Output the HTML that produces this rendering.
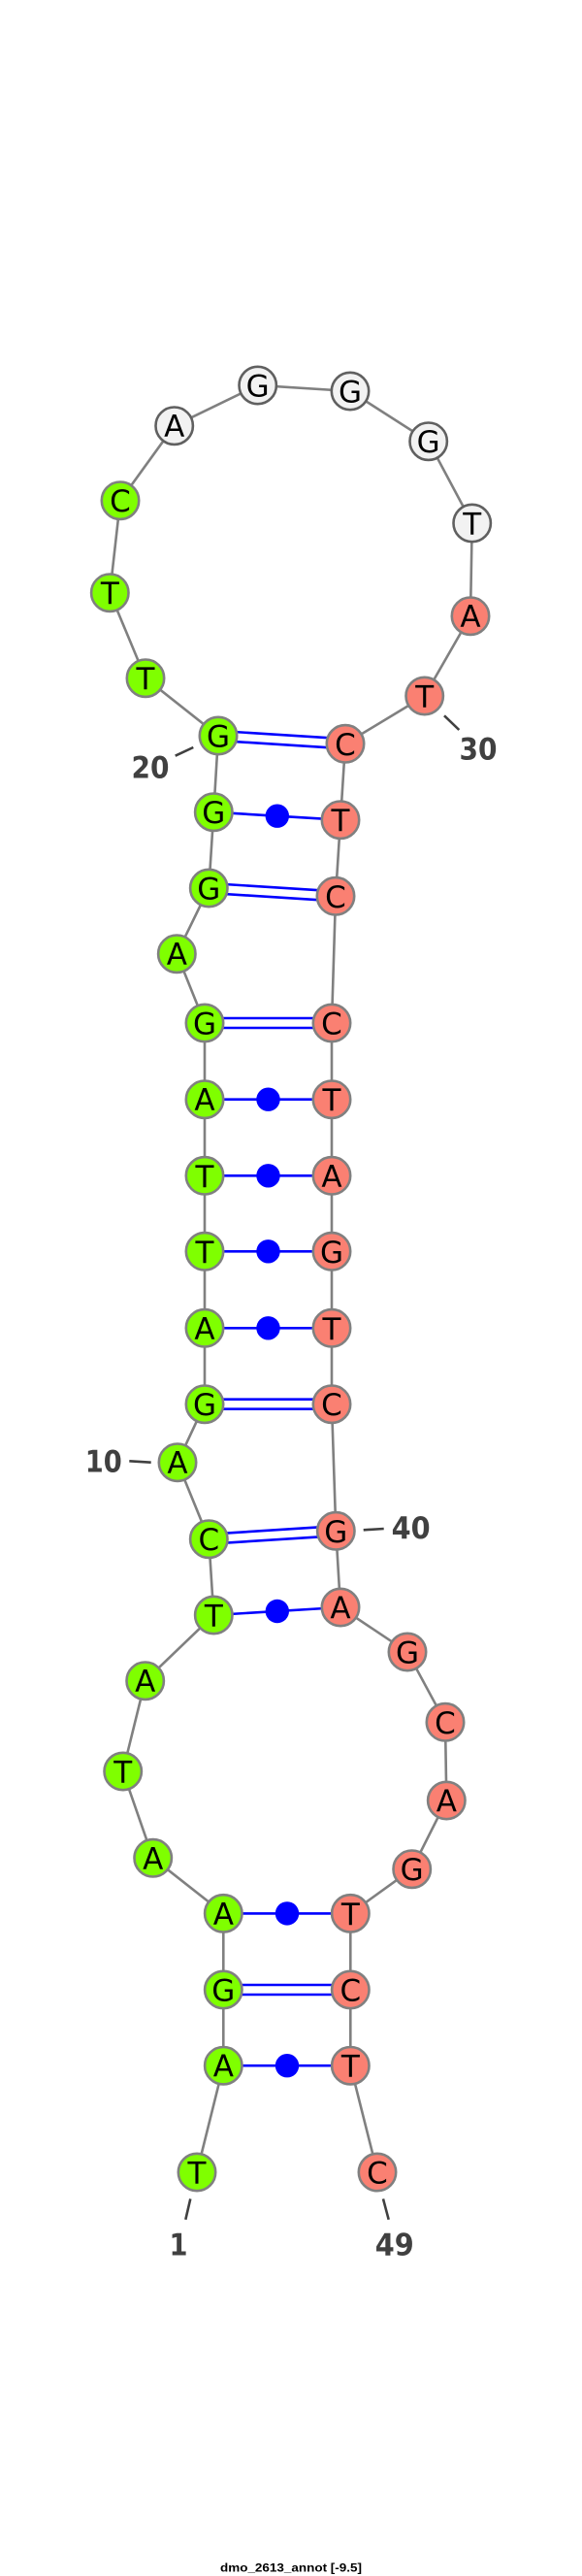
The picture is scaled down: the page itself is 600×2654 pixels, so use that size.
<!DOCTYPE html>
<html><head><meta charset="utf-8"><style>
html,body{margin:0;padding:0;background:#fff;width:600px;height:2654px;overflow:hidden}
svg{display:block}
.b{fill:none;stroke:#808080;stroke-width:2.6}
.p{stroke:#0000ff;stroke-width:2.6;fill:none}
.d{fill:#0000ff}
circle.g{fill:#7fff00;stroke:#808080;stroke-width:2.6}
circle.r{fill:#fa8072;stroke:#808080;stroke-width:2.6}
circle.w{fill:#f2f2f2;stroke:#606060;stroke-width:2.6}
text.n{font-family:"DejaVu Sans",sans-serif;font-size:31px;text-anchor:middle;fill:#000}
text.l{font-family:"DejaVu Sans",sans-serif;font-weight:bold;font-size:31px;text-anchor:middle;fill:#404040}
.t{stroke:#404040;stroke-width:2.6;fill:none}
text.h{font-family:"Liberation Sans",sans-serif;font-weight:bold;font-size:11.5px;text-anchor:middle;fill:#000}
</style></head><body>
<svg xmlns="http://www.w3.org/2000/svg" width="600" height="2654" viewBox="0 0 600 2654">
<rect width="600" height="2654" fill="#fff"/>
<polyline class="b" points="203,2238 230.3,2128.2 230.3,2050 230.3,1971.4 157.7,1914.3 126.7,1825 149.7,1731.7 220.3,1664 215.3,1585.7 183,1506.7 211,1446.7 211,1368.3 211,1289.3 211,1211.3 211,1132.7 211,1054 182.3,982.7 215.3,915 220.3,836.7 225,758 150,698.7 113.3,610.7 124,515.7 179.7,438.7 265.7,397 361,403 441.7,454.7 486.7,539 485,634.7 437.7,717 356,766.3 351,844.7 346,923.3 342,1054 342,1132.7 342,1211.3 342,1289.3 342,1368.3 342,1446.7 346.3,1577.3 351,1656 420,1702 459,1774.3 460.3,1855 424.7,1925.7 361.3,1971.4 361.3,2050 361.3,2128.2 389,2238"/>
<line class="p" x1="225.3" y1="753" x2="356.3" y2="761.3"/><line class="p" x1="224.7" y1="763" x2="355.7" y2="771.3"/>
<line class="p" x1="215.6" y1="910" x2="346.3" y2="918.3"/><line class="p" x1="215" y1="920" x2="345.7" y2="928.3"/>
<line class="p" x1="211" y1="1049" x2="342" y2="1049"/><line class="p" x1="211" y1="1059" x2="342" y2="1059"/>
<line class="p" x1="211" y1="1441.7" x2="342" y2="1441.7"/><line class="p" x1="211" y1="1451.7" x2="342" y2="1451.7"/>
<line class="p" x1="215" y1="1580.7" x2="346" y2="1572.3"/><line class="p" x1="215.6" y1="1590.7" x2="346.6" y2="1582.3"/>
<line class="p" x1="230.3" y1="2045" x2="361.3" y2="2045"/><line class="p" x1="230.3" y1="2055" x2="361.3" y2="2055"/>
<line class="p" x1="220.3" y1="836.7" x2="351" y2="844.7"/>
<line class="p" x1="211" y1="1132.7" x2="342" y2="1132.7"/>
<line class="p" x1="211" y1="1211.3" x2="342" y2="1211.3"/>
<line class="p" x1="211" y1="1289.3" x2="342" y2="1289.3"/>
<line class="p" x1="211" y1="1368.3" x2="342" y2="1368.3"/>
<line class="p" x1="220.3" y1="1664" x2="351" y2="1656"/>
<line class="p" x1="230.3" y1="1971.4" x2="361.3" y2="1971.4"/>
<line class="p" x1="230.3" y1="2128.2" x2="361.3" y2="2128.2"/>
<circle class="d" cx="285.8" cy="840.7" r="12.2"/>
<circle class="d" cx="276.5" cy="1132.7" r="12.2"/>
<circle class="d" cx="276.5" cy="1211.3" r="12.2"/>
<circle class="d" cx="276.5" cy="1289.3" r="12.2"/>
<circle class="d" cx="276.5" cy="1368.3" r="12.2"/>
<circle class="d" cx="285.8" cy="1660" r="12.2"/>
<circle class="d" cx="296" cy="1971.4" r="12.2"/>
<circle class="d" cx="296" cy="2128.2" r="12.2"/>

<circle class="g" cx="203" cy="2238" r="19.2"/><text class="n" x="203" y="2249.5">T</text>
<circle class="g" cx="230.3" cy="2128.2" r="19.2"/><text class="n" x="230.3" y="2139.7">A</text>
<circle class="g" cx="230.3" cy="2050" r="19.2"/><text class="n" x="230.3" y="2061.5">G</text>
<circle class="g" cx="230.3" cy="1971.4" r="19.2"/><text class="n" x="230.3" y="1982.9">A</text>
<circle class="g" cx="157.7" cy="1914.3" r="19.2"/><text class="n" x="157.7" y="1925.8">A</text>
<circle class="g" cx="126.7" cy="1825" r="19.2"/><text class="n" x="126.7" y="1836.5">T</text>
<circle class="g" cx="149.7" cy="1731.7" r="19.2"/><text class="n" x="149.7" y="1743.2">A</text>
<circle class="g" cx="220.3" cy="1664" r="19.2"/><text class="n" x="220.3" y="1675.5">T</text>
<circle class="g" cx="215.3" cy="1585.7" r="19.2"/><text class="n" x="215.3" y="1597.2">C</text>
<circle class="g" cx="183" cy="1506.7" r="19.2"/><text class="n" x="183" y="1518.2">A</text>
<circle class="g" cx="211" cy="1446.7" r="19.2"/><text class="n" x="211" y="1458.2">G</text>
<circle class="g" cx="211" cy="1368.3" r="19.2"/><text class="n" x="211" y="1379.8">A</text>
<circle class="g" cx="211" cy="1289.3" r="19.2"/><text class="n" x="211" y="1300.8">T</text>
<circle class="g" cx="211" cy="1211.3" r="19.2"/><text class="n" x="211" y="1222.8">T</text>
<circle class="g" cx="211" cy="1132.7" r="19.2"/><text class="n" x="211" y="1144.2">A</text>
<circle class="g" cx="211" cy="1054" r="19.2"/><text class="n" x="211" y="1065.5">G</text>
<circle class="g" cx="182.3" cy="982.7" r="19.2"/><text class="n" x="182.3" y="994.2">A</text>
<circle class="g" cx="215.3" cy="915" r="19.2"/><text class="n" x="215.3" y="926.5">G</text>
<circle class="g" cx="220.3" cy="836.7" r="19.2"/><text class="n" x="220.3" y="848.2">G</text>
<circle class="g" cx="225" cy="758" r="19.2"/><text class="n" x="225" y="769.5">G</text>
<circle class="g" cx="150" cy="698.7" r="19.2"/><text class="n" x="150" y="710.2">T</text>
<circle class="g" cx="113.3" cy="610.7" r="19.2"/><text class="n" x="113.3" y="622.2">T</text>
<circle class="g" cx="124" cy="515.7" r="19.2"/><text class="n" x="124" y="527.2">C</text>
<circle class="w" cx="179.7" cy="438.7" r="19.2"/><text class="n" x="179.7" y="450.2">A</text>
<circle class="w" cx="265.7" cy="397" r="19.2"/><text class="n" x="265.7" y="408.5">G</text>
<circle class="w" cx="361" cy="403" r="19.2"/><text class="n" x="361" y="414.5">G</text>
<circle class="w" cx="441.7" cy="454.7" r="19.2"/><text class="n" x="441.7" y="466.2">G</text>
<circle class="w" cx="486.7" cy="539" r="19.2"/><text class="n" x="486.7" y="550.5">T</text>
<circle class="r" cx="485" cy="634.7" r="19.2"/><text class="n" x="485" y="646.2">A</text>
<circle class="r" cx="437.7" cy="717" r="19.2"/><text class="n" x="437.7" y="728.5">T</text>
<circle class="r" cx="356" cy="766.3" r="19.2"/><text class="n" x="356" y="777.8">C</text>
<circle class="r" cx="351" cy="844.7" r="19.2"/><text class="n" x="351" y="856.2">T</text>
<circle class="r" cx="346" cy="923.3" r="19.2"/><text class="n" x="346" y="934.8">C</text>
<circle class="r" cx="342" cy="1054" r="19.2"/><text class="n" x="342" y="1065.5">C</text>
<circle class="r" cx="342" cy="1132.7" r="19.2"/><text class="n" x="342" y="1144.2">T</text>
<circle class="r" cx="342" cy="1211.3" r="19.2"/><text class="n" x="342" y="1222.8">A</text>
<circle class="r" cx="342" cy="1289.3" r="19.2"/><text class="n" x="342" y="1300.8">G</text>
<circle class="r" cx="342" cy="1368.3" r="19.2"/><text class="n" x="342" y="1379.8">T</text>
<circle class="r" cx="342" cy="1446.7" r="19.2"/><text class="n" x="342" y="1458.2">C</text>
<circle class="r" cx="346.3" cy="1577.3" r="19.2"/><text class="n" x="346.3" y="1588.8">G</text>
<circle class="r" cx="351" cy="1656" r="19.2"/><text class="n" x="351" y="1667.5">A</text>
<circle class="r" cx="420" cy="1702" r="19.2"/><text class="n" x="420" y="1713.5">G</text>
<circle class="r" cx="459" cy="1774.3" r="19.2"/><text class="n" x="459" y="1785.8">C</text>
<circle class="r" cx="460.3" cy="1855" r="19.2"/><text class="n" x="460.3" y="1866.5">A</text>
<circle class="r" cx="424.7" cy="1925.7" r="19.2"/><text class="n" x="424.7" y="1937.2">G</text>
<circle class="r" cx="361.3" cy="1971.4" r="19.2"/><text class="n" x="361.3" y="1982.9">T</text>
<circle class="r" cx="361.3" cy="2050" r="19.2"/><text class="n" x="361.3" y="2061.5">C</text>
<circle class="r" cx="361.3" cy="2128.2" r="19.2"/><text class="n" x="361.3" y="2139.7">T</text>
<circle class="r" cx="389" cy="2238" r="19.2"/><text class="n" x="389" y="2249.5">C</text>

<line class="t" x1="180.7" y1="778.7" x2="199.3" y2="770"/>
<line class="t" x1="458" y1="737.3" x2="473.3" y2="752"/>
<line class="t" x1="133.3" y1="1505.3" x2="155.7" y2="1506.7"/>
<line class="t" x1="374.7" y1="1576.3" x2="395.7" y2="1575"/>
<line class="t" x1="196.3" y1="2265.4" x2="191.3" y2="2286.8"/>
<line class="t" x1="395" y1="2265.4" x2="400.7" y2="2286.8"/>
<text class="l" x="155" y="801.7" textLength="39" lengthAdjust="spacingAndGlyphs">20</text>
<text class="l" x="493" y="782.7" textLength="39" lengthAdjust="spacingAndGlyphs">30</text>
<text class="l" x="106.7" y="1516.7" textLength="38" lengthAdjust="spacingAndGlyphs">10</text>
<text class="l" x="423.6" y="1585" textLength="40" lengthAdjust="spacingAndGlyphs">40</text>
<text class="l" x="184" y="2323.7" textLength="19" lengthAdjust="spacingAndGlyphs">1</text>
<text class="l" x="406.7" y="2323.7" textLength="40" lengthAdjust="spacingAndGlyphs">49</text>
<text class="h" x="300" y="2649.5" textLength="146" lengthAdjust="spacingAndGlyphs">dmo_2613_annot [-9.5]</text>
</svg>
</body></html>
